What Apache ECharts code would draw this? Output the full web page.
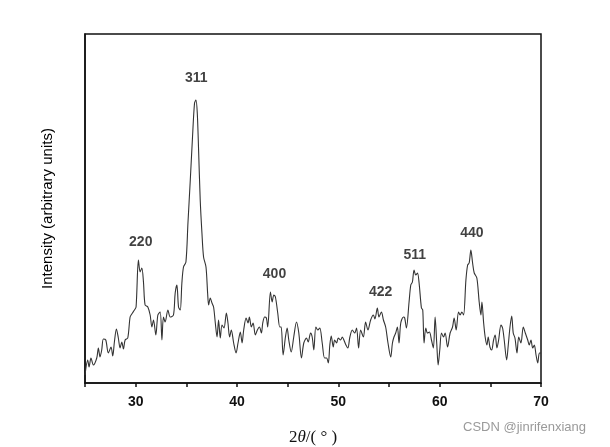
<!DOCTYPE html>
<html><head><meta charset="utf-8">
<script src="https://cdn.jsdelivr.net/npm/echarts@6/dist/echarts.min.js"></script>
<style>html,body{margin:0;padding:0;background:#fff}#c{width:610px;height:447px}</style>
</head><body><div id="c"></div>
<script>
var twoTheta = [25.00,25.27,25.40,25.59,25.82,26.16,26.32,26.48,26.65,26.81,27.05,27.30,27.57,27.74,27.90,28.10,28.29,28.46,28.63,28.79,28.96,29.22,29.45,29.62,29.88,30.04,30.27,30.44,30.61,30.77,30.93,31.20,31.43,31.60,31.76,31.99,32.19,32.42,32.59,32.74,32.91,33.18,33.41,33.73,33.90,34.07,34.23,34.40,34.56,34.72,34.96,35.16,35.39,35.61,35.81,35.95,36.08,36.21,36.37,36.54,36.70,36.94,37.10,37.20,37.36,37.53,37.69,37.86,38.03,38.18,38.35,38.52,38.72,38.95,39.11,39.27,39.44,39.67,39.91,40.10,40.33,40.50,40.66,40.90,41.09,41.22,41.42,41.59,41.81,42.01,42.21,42.41,42.54,42.73,42.90,43.03,43.30,43.47,43.63,43.79,44.02,44.22,44.36,44.55,44.78,44.95,45.11,45.35,45.60,45.87,46.10,46.36,46.59,46.86,47.03,47.26,47.42,47.58,47.78,47.98,48.17,48.41,48.64,48.84,49.01,49.16,49.30,49.50,49.63,49.83,49.99,50.22,50.39,50.55,50.75,50.94,51.14,51.38,51.61,51.80,52.00,52.20,52.47,52.69,52.92,53.19,53.46,53.61,53.85,54.01,54.25,54.45,54.67,54.90,55.17,55.34,55.49,55.66,55.83,55.99,56.16,56.42,56.55,56.72,56.98,57.15,57.31,57.47,57.64,57.81,57.97,58.20,58.33,58.46,58.63,58.80,58.99,59.19,59.38,59.55,59.72,59.85,60.01,60.18,60.38,60.54,60.78,61.03,61.27,61.43,61.63,61.86,62.02,62.19,62.36,62.59,62.76,62.91,63.08,63.25,63.41,63.67,63.90,64.07,64.17,64.34,64.49,64.66,64.79,64.96,65.13,65.32,65.48,65.65,65.82,66.05,66.21,66.37,66.61,66.77,66.94,67.11,67.26,67.43,67.63,67.80,68.02,68.25,68.45,68.69,68.84,69.01,69.18,69.34,69.51,69.68,69.84,70.00];
var intensity = [8,23,16,25,18,25,35,26,33,44,43,30,36,27,41,54,45,35,41,34,43,45,66,69,73,76,123,111,115,101,78,76,68,56,63,48,68,71,43,66,61,73,66,68,90,98,76,73,100,116,121,160,203,246,280,283,270,233,183,150,126,116,90,78,85,80,76,60,46,63,45,58,55,70,60,46,53,40,30,40,51,40,53,65,60,66,56,60,48,53,56,50,60,66,65,56,91,81,88,86,70,56,56,28,46,55,43,31,46,61,50,25,40,45,41,50,46,33,56,53,55,40,25,25,20,38,47,36,43,40,45,43,46,43,38,35,46,53,50,55,35,53,46,61,53,63,68,64,75,66,71,63,56,40,26,40,46,50,56,40,60,66,65,55,81,98,101,113,108,110,100,75,73,40,55,50,51,43,35,66,38,18,33,50,46,50,36,50,56,65,53,71,68,71,68,103,118,120,133,120,110,105,81,68,81,60,46,38,46,36,33,43,48,35,43,58,55,43,23,38,56,67,50,45,30,46,40,56,50,43,38,43,35,38,28,20,30,30];
var peakNames = ['220','311','400','422','511','440'];
var peakX = [30.5,35.98,43.7,54.18,57.54,63.18];
var peakY = [141,305,109,91,128,150];
var xTicks = [30,40,50,60,70];

var chart = echarts.init(document.getElementById('c'));
var lineData = twoTheta.map(function(x,i){return [x,intensity[i]];});
var labelData = peakNames.map(function(n,i){return {value:[peakX[i],peakY[i]],name:n};});
chart.setOption({
  animation:false,
  grid:{left:85,right:69,top:34,bottom:64,show:true,borderColor:'#111',borderWidth:1.5,containLabel:false,outerBoundsMode:'none'},
  xAxis:{type:'value',min:25,max:70,interval:5,
    axisLine:{lineStyle:{color:'#111',width:1.5}},
    axisTick:{inside:false,length:4,lineStyle:{color:'#111',width:1.5}},
    splitLine:{show:false},
    axisLabel:{color:'#111',fontSize:14,fontWeight:'bold',fontFamily:'Liberation Sans, Arial',margin:12,
      formatter:function(v){return xTicks.indexOf(v)>=0?String(v):'';}},
    name:'{a|2}{b|θ}{a|/( ° )}',nameLocation:'middle',nameGap:46,
    nameTextStyle:{rich:{a:{fontFamily:'Liberation Serif, Times New Roman',fontSize:17,color:'#111'},b:{fontFamily:'Liberation Serif, Times New Roman',fontStyle:'italic',fontSize:17,color:'#111'}}}
  },
  yAxis:{type:'value',min:0,max:349,
    axisLine:{show:true,lineStyle:{color:'#111',width:1.5}},
    axisTick:{show:false},axisLabel:{show:false},splitLine:{show:false},
    name:'Intensity (arbitrary units)',nameLocation:'middle',nameGap:30,
    nameTextStyle:{fontFamily:'Liberation Sans, Arial',fontSize:15,color:'#000'}
  },
  series:[
    {type:'line',data:lineData,showSymbol:false,smooth:0.3,
      lineStyle:{color:'#333',width:1.1}},
    {type:'scatter',data:labelData,symbolSize:0,
      label:{show:true,position:'inside',formatter:function(p){return p.name;},
        fontFamily:'Liberation Sans, Arial',fontSize:14,fontWeight:'bold',color:'#111'}}
  ],
  graphic:[{type:'text',left:463,top:421,style:{text:'CSDN @jinrifenxiang',fill:'#9a9a9a',font:'13px "Liberation Sans", Arial'}}]
});
</script></body></html>
